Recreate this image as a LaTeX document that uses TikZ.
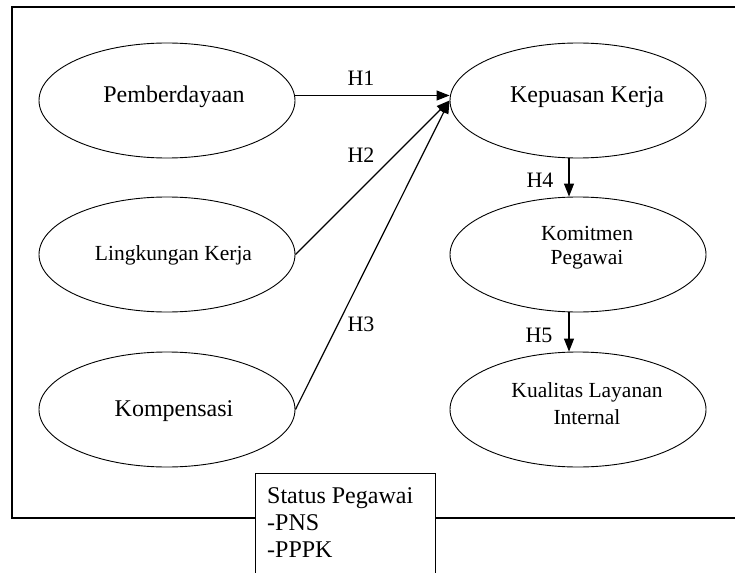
\documentclass[tikz,border=0pt]{standalone}
\usepackage{fontspec}
\setmainfont{Liberation Serif}
\usetikzlibrary{shapes.geometric,arrows.meta,calc}
\tikzset{
  oval/.style={draw, ellipse, line width=0.9pt, minimum width=256pt, minimum height=115pt, inner sep=0pt},
  bigtxt/.style={anchor=base, inner sep=0pt, font=\fontsize{24}{27}\selectfont},
  smalltxt/.style={anchor=base, inner sep=0pt, font=\fontsize{21.5}{24}\selectfont},
  hlab/.style={anchor=center, inner sep=0pt, font=\fontsize{22}{24}\selectfont},
  conn/.style={line width=1.2pt, -{Triangle[length=13pt,width=10pt]}},
  frameline/.style={line width=1.2pt},
  statbox/.style={draw, fill=white, line width=1.2pt, anchor=north west, minimum width=180pt, minimum height=120pt, inner sep=0pt},
  stattxt/.style={anchor=base west, inner sep=0pt, font=\fontsize{24}{27}\selectfont}
}
\begin{document}
\begin{tikzpicture}[x=1pt,y=-1pt]
\clip (0,0) rectangle (735,572);
\fill[white] (0,0) rectangle (735,572);
% outer frame (right side beyond the picture)
\draw[frameline] (760,7) -- (12,7) -- (12,518) -- (760,518);
% ellipses
\node[oval] (pem) at (167,100.5) {};
\node[oval] (kep) at (578,100.5) {};
\node[oval] (lin) at (167,254.5) {};
\node[oval] (kom) at (578,254.5) {};
\node[oval] (kmp) at (167,409.5) {};
\node[oval] (kua) at (578,409.5) {};
% texts
\node[bigtxt] (pemt) at (174,103) {Pemberdayaan};
\node[bigtxt] (kept) at (587,103) {Kepuasan Kerja};
\node[smalltxt] (lint) at (173.5,260) {Lingkungan Kerja};
\node[smalltxt] (komt1) at (587,240) {Komitmen};
\node[smalltxt] (komt2) at (587,264) {Pegawai};
\node[bigtxt] (kmpt) at (174,416) {Kompensasi};
\node[smalltxt] (kuat1) at (587,397) {Kualitas Layanan};
\node[smalltxt] (kuat2) at (587,424) {Internal};
% connectors
\draw[conn] ($(pem.east)+(0,-5)$) -- ($(kep.west)+(0,-5)$);
\draw[conn] (lin.east) -- (kep.west);
\draw[conn] (kmp.east) -- (kep.west);
\draw[conn] ($(kep.south)+(-9,0)$) -- ($(kom.north)+(-9,0)$);
\draw[conn] ($(kom.south)+(-9,0)$) -- ($(kua.north)+(-9,0)$);
% labels
\node[hlab] (h1) at (361,78) {H1};
\node[hlab] (h2) at (361,155) {H2};
\node[hlab] (h3) at (361,324) {H3};
\node[hlab] (h4) at (540,180) {H4};
\node[hlab] (h5) at (539,335) {H5};
% status box
\node[statbox] (stat) at (255,473) {};
\node[stattxt] (st1) at (267,503) {Status Pegawai};
\node[stattxt] (st2) at (267,530) {-PNS};
\node[stattxt] (st3) at (267,557) {-PPPK};
\end{tikzpicture}
\end{document}
